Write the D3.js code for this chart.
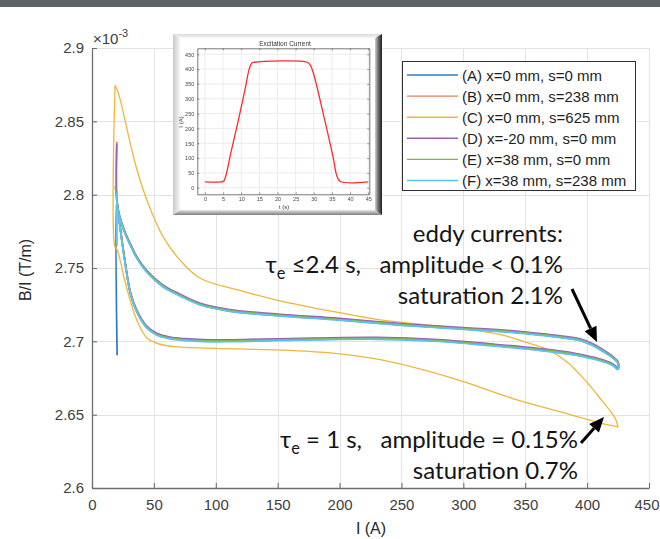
<!DOCTYPE html>
<html>
<head>
<meta charset="utf-8">
<script src="https://cdn.jsdelivr.net/npm/d3@7"></script>
<style>
  html, body { margin: 0; padding: 0; background: #fff; }
  svg { display: block; }
  text { font-family: "Liberation Sans", Arial, Helvetica, sans-serif; }
  .note { font-family: Lato, "Open Sans", sans-serif; fill: #141414; white-space: pre; }
</style>
</head>
<body>
<svg id="chart" width="660" height="539"></svg>
<script>
// ---------- axis ticks ----------
const xTicks = [0, 50, 100, 150, 200, 250, 300, 350, 400, 450];
const yTicks = [2.6, 2.65, 2.7, 2.75, 2.8, 2.85, 2.9];

// ---------- legend ----------
const seriesNames = [
  "(A) x=0 mm, s=0 mm",
  "(B) x=0 mm, s=238 mm",
  "(C) x=0 mm, s=625 mm",
  "(D) x=-20 mm, s=0 mm",
  "(E) x=38 mm, s=0 mm",
  "(F) x=38 mm, s=238 mm"
];
const seriesColors = ["#2a7cc0", "#e2805a", "#f0b63a", "#9b62b2", "#80b545", "#5ac3ef"];

// ---------- B/I loops (x 1e-3 T/m) ----------
// shared current samples for the ramp-up and ramp-down branches
const upCurrent   = [20, 23, 26, 31, 36, 44, 52, 62, 75, 90, 110, 140, 180, 230, 280, 320, 360, 390, 410, 420, 425];
const downCurrent = [425, 421, 415, 405, 395, 375, 340, 300, 250, 200, 150, 110, 87, 71, 57, 44, 36, 31, 26, 22, 20];

const seriesA_startI = [20.3];
const seriesA_startV = [2.6905];
const seriesA_up   = [2.7968, 2.7758, 2.7577, 2.7327, 2.7206, 2.7097, 2.7047, 2.7022, 2.7010, 2.7003, 2.7001, 2.7007, 2.7013, 2.7018, 2.7003, 2.6975, 2.6942, 2.6909, 2.6871, 2.6840, 2.6811];
const seriesA_down = [2.6851, 2.6886, 2.6921, 2.6971, 2.7005, 2.7031, 2.7062, 2.7084, 2.7111, 2.7146, 2.7176, 2.7208, 2.7251, 2.7312, 2.7376, 2.7476, 2.7571, 2.7656, 2.7751, 2.7856, 2.7946];

const seriesB_startI = [20.1];
const seriesB_startV = [2.8360];
const seriesB_up   = [2.7972, 2.7762, 2.7582, 2.7333, 2.7212, 2.7103, 2.7053, 2.7027, 2.7015, 2.7007, 2.7006, 2.7012, 2.7018, 2.7023, 2.7008, 2.6980, 2.6947, 2.6914, 2.6876, 2.6846, 2.6816];
const seriesB_down = [2.6856, 2.6891, 2.6926, 2.6976, 2.7010, 2.7036, 2.7067, 2.7089, 2.7116, 2.7151, 2.7181, 2.7213, 2.7256, 2.7317, 2.7381, 2.7481, 2.7576, 2.7661, 2.7756, 2.7861, 2.7951];

const seriesC_startI = [18.6];
const seriesC_startV = [2.8745];
const seriesC_upI  = [18.5, 20, 22.7, 26, 30.8, 35, 38.8, 44.3, 50, 57.5, 70, 87, 120, 160, 200, 233, 270, 300, 340, 380, 411, 420, 425];
const seriesC_up   = [2.7644, 2.7630, 2.7555, 2.7430, 2.7282, 2.7170, 2.7098, 2.7023, 2.6995, 2.6975, 2.6962, 2.6955, 2.6948, 2.6938, 2.6915, 2.6875, 2.6800, 2.6725, 2.6610, 2.6515, 2.6443, 2.6425, 2.6416];
const seriesC_downI = [425, 423, 420, 413, 400, 384, 368, 350, 330, 300, 270, 233, 200, 150, 120, 87, 71, 57.5, 44.3, 36, 30.8, 25, 21, 18.5];
const seriesC_down  = [2.6416, 2.6470, 2.6510, 2.6585, 2.6720, 2.6858, 2.6945, 2.6995, 2.7045, 2.7085, 2.7112, 2.7146, 2.7195, 2.7280, 2.7345, 2.7432, 2.7555, 2.7712, 2.7964, 2.8180, 2.8353, 2.8570, 2.8700, 2.8748];

const seriesD_startI = [20.0];
const seriesD_startV = [2.8345];
const seriesD_up   = [2.7976, 2.7766, 2.7587, 2.7337, 2.7217, 2.7106, 2.7057, 2.7031, 2.7018, 2.7011, 2.7010, 2.7016, 2.7022, 2.7027, 2.7012, 2.6984, 2.6952, 2.6919, 2.6881, 2.6851, 2.6820];
const seriesD_down = [2.6860, 2.6895, 2.6931, 2.6981, 2.7015, 2.7041, 2.7072, 2.7094, 2.7121, 2.7156, 2.7186, 2.7218, 2.7261, 2.7322, 2.7386, 2.7486, 2.7581, 2.7666, 2.7761, 2.7866, 2.7956];

const seriesE_startI = [18.8];
const seriesE_startV = [2.8060];
const seriesE_up   = [2.7966, 2.7757, 2.7578, 2.7329, 2.7208, 2.7099, 2.7049, 2.7024, 2.7011, 2.7004, 2.7003, 2.7009, 2.7015, 2.7020, 2.7005, 2.6977, 2.6945, 2.6912, 2.6874, 2.6844, 2.6814];
const seriesE_down = [2.6854, 2.6889, 2.6924, 2.6974, 2.7008, 2.7034, 2.7065, 2.7087, 2.7114, 2.7149, 2.7179, 2.7211, 2.7254, 2.7315, 2.7379, 2.7479, 2.7574, 2.7659, 2.7754, 2.7859, 2.7949];

const seriesF_startI = [20.2, 20.1];
const seriesF_startV = [2.7650, 2.8010];
const seriesF_up   = [2.7962, 2.7753, 2.7573, 2.7323, 2.7203, 2.7093, 2.7043, 2.7018, 2.7005, 2.6998, 2.6997, 2.7003, 2.7009, 2.7014, 2.6999, 2.6971, 2.6939, 2.6906, 2.6868, 2.6838, 2.6808];
const seriesF_down = [2.6849, 2.6884, 2.6919, 2.6969, 2.7003, 2.7029, 2.7060, 2.7082, 2.7109, 2.7144, 2.7174, 2.7206, 2.7249, 2.7310, 2.7374, 2.7474, 2.7569, 2.7654, 2.7749, 2.7854, 2.7944];

// ---------- excitation current cycle (inset) ----------
const excitationTime    = [0, 4.5, 5.2, 6, 7, 8.7, 11, 12.2, 12.9, 13.6, 28.2, 29, 29.8, 32.6, 35.4, 36.3, 37.2, 45];
const excitationCurrent = [20, 20, 23, 52, 110, 200, 328, 400, 420, 423, 423, 414, 390, 250, 99, 43, 22, 20];
const insetTimeTicks    = [0, 5, 10, 15, 20, 25, 30, 35, 40, 45];
const insetCurrentTicks = [0, 50, 100, 150, 200, 250, 300, 350, 400, 450];

// ---------- helpers ----------
function loopPoints(startI, startV, upI, upV, downI, downV) {
  return d3.zip(startI, startV).concat(d3.zip(upI, upV), d3.zip(downI, downV));
}
const loops = [
  loopPoints(seriesA_startI, seriesA_startV, upCurrent, seriesA_up, downCurrent, seriesA_down),
  loopPoints(seriesB_startI, seriesB_startV, upCurrent, seriesB_up, downCurrent, seriesB_down),
  loopPoints(seriesC_startI, seriesC_startV, seriesC_upI, seriesC_up, seriesC_downI, seriesC_down),
  loopPoints(seriesD_startI, seriesD_startV, upCurrent, seriesD_up, downCurrent, seriesD_down),
  loopPoints(seriesE_startI, seriesE_startV, upCurrent, seriesE_up, downCurrent, seriesE_down),
  loopPoints(seriesF_startI, seriesF_startV, upCurrent, seriesF_up, downCurrent, seriesF_down)
];

const svg = d3.select("#chart");
const defs = svg.append("defs");

// banner strip across the top
svg.append("rect").attr("x", 0).attr("y", 0).attr("width", 660).attr("height", 7).attr("fill", "#5f6266");

// ---------- main axes ----------
const plot = { left: 92, right: 649, top: 48, bottom: 488 };
const x = d3.scaleLinear().domain([0, 450]).range([plot.left, plot.right]);
const y = d3.scaleLinear().domain([2.6, 2.9]).range([plot.bottom, plot.top]);

const grid = svg.append("g").attr("stroke", "#e3e3e3").attr("stroke-width", 1);
grid.selectAll("line.gx").data(xTicks.filter(d => d > 0)).join("line")
  .attr("x1", d => Math.round(x(d)) + 0.5).attr("x2", d => Math.round(x(d)) + 0.5)
  .attr("y1", plot.top).attr("y2", plot.bottom);
grid.selectAll("line.gy").data(yTicks.filter(d => d > 2.6)).join("line")
  .attr("y1", d => Math.round(y(d)) + 0.5).attr("y2", d => Math.round(y(d)) + 0.5)
  .attr("x1", plot.left).attr("x2", plot.right);

const axisColor = "#6e6e6e";
const yAxis = svg.append("g").attr("transform", `translate(${plot.left},0)`)
  .call(d3.axisLeft(y).tickValues(yTicks).tickFormat(d3.format("")).tickSize(-5).tickSizeOuter(0).tickPadding(8));
const xAxis = svg.append("g").attr("transform", `translate(0,${plot.bottom})`)
  .call(d3.axisBottom(x).tickValues(xTicks).tickFormat(d3.format("")).tickSize(-5).tickSizeOuter(0).tickPadding(11));
[yAxis, xAxis].forEach(a => {
  a.select(".domain").attr("stroke", axisColor).attr("stroke-width", 1.3);
  a.selectAll(".tick line").attr("stroke", axisColor).attr("stroke-width", 1.1);
  a.selectAll(".tick text").attr("fill", "#404040").style("font-size", "15px").style("font-family", "'Liberation Sans', Arial, sans-serif");
});
// keep the last x label inside the page edge
xAxis.selectAll(".tick text").filter(d => d === 450).attr("text-anchor", "end").attr("x", 10);

// exponent label
const expo = svg.append("text").attr("x", 93).attr("y", 44).attr("fill", "#404040").style("font-size", "15px");
expo.append("tspan").text("\u00d710");
expo.append("tspan").attr("dy", -7).style("font-size", "11px").text("-3");

// axis titles
svg.append("text").attr("transform", "translate(31,270) rotate(-90)").attr("text-anchor", "middle")
  .attr("fill", "#262626").style("font-size", "16px").text("B/I (T/m)");
svg.append("text").attr("x", 371).attr("y", 534).attr("text-anchor", "middle")
  .attr("fill", "#262626").style("font-size", "16px").text("I (A)");

// ---------- loops ----------
const line = d3.line().x(d => x(d[0])).y(d => y(d[1])).curve(d3.curveCatmullRom.alpha(0.5));
svg.append("g").attr("fill", "none").selectAll("path").data(loops).join("path")
  .attr("d", line)
  .attr("stroke", (d, i) => seriesColors[i])
  .attr("stroke-width", (d, i) => i === 2 ? 1.3 : 1.7)
  .attr("stroke-linejoin", "round");

// ---------- annotations ----------
function note(xr, yb, parts, size) {
  const t = svg.append("text").attr("class", "note").attr("x", xr).attr("y", yb)
    .attr("text-anchor", "end").attr("xml:space", "preserve").style("font-size", size + "px");
  parts.forEach(p => {
    const s = t.append("tspan").text(p.t);
    if (p.sub) s.attr("dy", 6).style("font-size", (size * 0.68) + "px");
    if (p.back) s.attr("dy", -6);
  });
  return t;
}
const noteSize = 24;
note(563, 242, [{ t: "eddy currents:" }], noteSize);
note(563, 273, [{ t: "\u03c4" }, { t: "e", sub: true }, { t: " \u22642.4 s,   amplitude < 0.1%", back: true }], noteSize);
note(563, 304, [{ t: "saturation 2.1%" }], noteSize);
note(578, 448, [{ t: "\u03c4" }, { t: "e", sub: true }, { t: " = 1 s,   amplitude = 0.15%", back: true }], noteSize);
note(578, 479, [{ t: "saturation 0.7%" }], noteSize);

function arrow(x1, y1, x2, y2) {
  const a = Math.atan2(y2 - y1, x2 - x1), L = 15, W = 6.5;
  const bx = x2 - L * Math.cos(a), by = y2 - L * Math.sin(a);
  svg.append("line").attr("x1", x1).attr("y1", y1).attr("x2", bx).attr("y2", by)
    .attr("stroke", "#000").attr("stroke-width", 3);
  svg.append("polygon").attr("fill", "#000").attr("points", [
    [x2, y2],
    [bx + W * Math.sin(a), by - W * Math.cos(a)],
    [bx - W * Math.sin(a), by + W * Math.cos(a)]
  ].map(p => p.join(",")).join(" "));
}
arrow(572, 289, 597, 342);
arrow(581, 443, 604, 417);

// ---------- legend ----------
const leg = svg.append("g");
leg.append("rect").attr("x", 402.5).attr("y", 61.5).attr("width", 233).attr("height", 129)
  .attr("fill", "#fff").attr("stroke", "#303030").attr("stroke-width", 1);
const rows = leg.selectAll("g.row").data(seriesNames).join("g").attr("transform", (d, i) => `translate(0,${75 + i * 21.1})`);
rows.append("line").attr("x1", 407).attr("x2", 458).attr("y1", 0).attr("y2", 0)
  .attr("stroke", (d, i) => seriesColors[i]).attr("stroke-width", 1.4);
rows.append("text").attr("x", 462).attr("y", 5.5).attr("fill", "#1e1e1e").style("font-size", "15px").text(d => d);

// ---------- inset: excitation current ----------
const soft = defs.append("filter").attr("id", "soft").attr("x", "-5%").attr("y", "-5%").attr("width", "110%").attr("height", "110%");
soft.append("feGaussianBlur").attr("stdDeviation", 0.35);
function grad(id, x1, y1, x2, y2, stops) {
  const g = defs.append("linearGradient").attr("id", id).attr("x1", x1).attr("y1", y1).attr("x2", x2).attr("y2", y2);
  stops.forEach(s => g.append("stop").attr("offset", s[0]).attr("stop-color", s[1]));
}
grad("bevL", 0, 0, 1, 0, [[0, "#c9c9c9"], [1, "#f6f6f6"]]);
grad("bevT", 0, 0, 0, 1, [[0, "#dadada"], [1, "#f8f8f8"]]);
grad("bevR", 0, 0, 1, 0, [[0, "#d0d0d0"], [0.5, "#6a6a6a"], [1, "#1e1e1e"]]);
grad("bevB", 0, 0, 0, 1, [[0, "#e6e6e6"], [1, "#7d7d7d"]]);

const ins = svg.append("g").attr("filter", "url(#soft)");
const fo = { l: 173, t: 34, r: 382, b: 215 }, fi = { l: 180, t: 38, r: 375, b: 210 };
const poly = pts => pts.map(p => p.join(",")).join(" ");
ins.append("polygon").attr("points", poly([[fo.l, fo.t], [fi.l, fi.t], [fi.l, fi.b], [fo.l, fo.b]])).attr("fill", "url(#bevL)");
ins.append("polygon").attr("points", poly([[fo.l, fo.t], [fo.r, fo.t], [fi.r, fi.t], [fi.l, fi.t]])).attr("fill", "url(#bevT)");
ins.append("polygon").attr("points", poly([[fo.l, fo.b], [fi.l, fi.b], [fi.r, fi.b], [fo.r, fo.b]])).attr("fill", "url(#bevB)");
ins.append("polygon").attr("points", poly([[fi.r, fi.t], [fo.r, fo.t], [fo.r, fo.b], [fi.r, fi.b]])).attr("fill", "url(#bevR)");
ins.append("rect").attr("x", fi.l).attr("y", fi.t).attr("width", fi.r - fi.l).attr("height", fi.b - fi.t).attr("fill", "#fff");

const tx = d3.scaleLinear().domain([-2.1, 45.3]).range([197.3, 369.3]);
const iy = d3.scaleLinear().domain([-22, 470]).range([194.3, 48.3]);
const ig = ins.append("g").attr("stroke", "#e4e4e4").attr("stroke-width", 0.7);
ig.selectAll("line.vx").data(insetTimeTicks).join("line")
  .attr("x1", d => tx(d)).attr("x2", d => tx(d)).attr("y1", 48.3).attr("y2", 194.3);
ig.selectAll("line.hy").data(insetCurrentTicks).join("line")
  .attr("y1", d => iy(d)).attr("y2", d => iy(d)).attr("x1", 197.3).attr("x2", 369.3);

const iAxL = ins.append("g").attr("transform", "translate(197.3,0)")
  .call(d3.axisLeft(iy).tickValues(insetCurrentTicks).tickSize(-2).tickSizeOuter(0).tickPadding(3));
const iAxB = ins.append("g").attr("transform", "translate(0,194.3)")
  .call(d3.axisBottom(tx).tickValues(insetTimeTicks).tickSize(-2).tickSizeOuter(0).tickPadding(3));
const iAxT = ins.append("g").attr("transform", "translate(0,48.3)")
  .call(d3.axisTop(tx).tickValues(insetTimeTicks).tickSize(-2).tickSizeOuter(0).tickFormat(""));
const iAxR = ins.append("g").attr("transform", "translate(369.3,0)")
  .call(d3.axisRight(iy).tickValues(insetCurrentTicks).tickSize(-2).tickSizeOuter(0).tickFormat(""));
[iAxL, iAxB, iAxT, iAxR].forEach(a => {
  a.select(".domain").attr("stroke", "#555").attr("stroke-width", 0.8);
  a.selectAll(".tick line").attr("stroke", "#555").attr("stroke-width", 0.6);
  a.selectAll(".tick text").attr("fill", "#444").style("font-size", "5.5px");
});
ins.append("text").attr("x", 285).attr("y", 45.5).attr("text-anchor", "middle").attr("fill", "#333")
  .style("font-size", "6.5px").text("Excitation Current");
ins.append("text").attr("transform", "translate(183,122) rotate(-90)").attr("text-anchor", "middle").attr("fill", "#333")
  .style("font-size", "6px").text("I (A)");
ins.append("text").attr("x", 284).attr("y", 209).attr("text-anchor", "middle").attr("fill", "#333")
  .style("font-size", "6px").text("t (s)");
ins.append("path").datum(d3.zip(excitationTime, excitationCurrent))
  .attr("fill", "none").attr("stroke", "#ff2a2a").attr("stroke-width", 1.3)
  .attr("d", d3.line().x(d => tx(d[0])).y(d => iy(d[1])).curve(d3.curveCatmullRom.alpha(0.5)));
</script>
</body>
</html>
